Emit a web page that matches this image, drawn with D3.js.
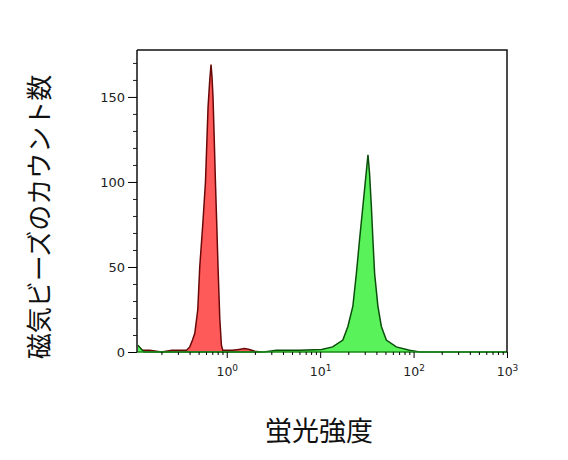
<!DOCTYPE html>
<html>
<head>
<meta charset="utf-8">
<script src="https://cdn.jsdelivr.net/npm/d3@7"></script>
<style>
  body { margin: 0; background: #fff; }
  svg text { font-family: "DejaVu Sans", Verdana, sans-serif; }
</style>
</head>
<body>
<div id="chart"></div>
<script>
// fluorescence intensity (log axis) and bead counts
const redIntensity = [0.115, 0.15, 0.2, 0.26, 0.33, 0.371, 0.402, 0.43, 0.455, 0.49, 0.514, 0.554, 0.592, 0.631, 0.658, 0.679, 0.695, 0.713, 0.735, 0.757, 0.782, 0.807, 0.842, 0.877, 0.906, 1.0, 1.15, 1.35, 1.55, 1.75, 2.0, 2.3];
const redCount     = [1, 1, 0, 1, 1, 1, 3, 7, 11, 25, 50, 75, 100, 144, 160, 169, 162, 150, 125, 100, 75, 50, 20, 4, 1, 1, 1, 1.5, 2, 1.5, 0.5, 0];

const greenIntensity = [0.112, 0.13, 0.3, 1.0, 2.5, 3.4, 6.0, 10.4, 13.6, 17.5, 19.8, 22.4, 24.4, 26.4, 28.7, 32.5, 33.8, 35.3, 36.7, 38.3, 41.5, 45.2, 51.1, 65.3, 90.6, 116, 200, 1000];
const greenCount     = [4, 0, 0, 0, 0, 1, 1, 1.5, 3, 7, 15, 27, 46, 66, 86, 116, 105, 86, 66, 46, 27, 15, 7, 3, 1, 0, 0, 0];

const yTicks = [0, 50, 100, 150];
const xTicks = [1, 10, 100, 1000];
const xTickExp = ["0", "1", "2", "3"];

const yTitle = "磁気ビーズのカウント数";
const xTitle = "蛍光強度";

// layout
const W = 568, H = 460;
const margin = { top: 50, right: 61, bottom: 108, left: 137 };
const width = W - margin.left - margin.right,
      height = H - margin.top - margin.bottom;

const x = d3.scaleLog().domain([0.1095, 1000]).range([0, width]);
const y = d3.scaleLinear().domain([0, 177.6]).range([height, 0]);

const svg = d3.select("#chart").append("svg")
    .attr("width", W)
    .attr("height", H);

const g = svg.append("g")
    .attr("transform", "translate(" + margin.left + "," + margin.top + ")");

// histograms
function drawHist(xs, ys, fill, stroke) {
  const pts = xs.map((d, i) => [d, ys[i]]);
  const area = d3.area()
      .x(d => x(d[0]))
      .y0(y(0))
      .y1(d => y(d[1]));
  const line = d3.line()
      .x(d => x(d[0]))
      .y(d => y(d[1]));
  g.append("path").datum(pts)
      .attr("d", area)
      .attr("fill", fill);
  g.append("path").datum(pts)
      .attr("d", line)
      .attr("fill", "none")
      .attr("stroke", stroke)
      .attr("stroke-width", 1.5);
}
drawHist(redIntensity, redCount, "#ff5a5a", "#6a0808");
drawHist(greenIntensity, greenCount, "#5af25a", "#0a4f0a");

// green baseline along the bottom
g.append("line")
    .attr("x1", 0).attr("x2", width)
    .attr("y1", height).attr("y2", height)
    .attr("stroke", "#1a8a1a")
    .attr("stroke-width", 1.5);

// frame top + right
g.append("path")
    .attr("d", "M0,0H" + width + "V" + height)
    .attr("fill", "none")
    .attr("stroke", "#111")
    .attr("stroke-width", 1.5);

// y axis
const yMinor = d3.range(0, 171, 10).filter(v => v % 50 !== 0);
g.append("g")
    .call(d3.axisLeft(y).tickValues(yMinor).tickSize(4).tickFormat(""))
    .call(a => a.select(".domain").remove())
    .selectAll("line").attr("stroke", "#222");
const yAx = g.append("g")
    .call(d3.axisLeft(y).tickValues(yTicks).tickSize(9).tickPadding(3));
yAx.select(".domain")
    .attr("d", "M0,0V" + height)
    .attr("stroke", "#111")
    .attr("stroke-width", 1.5);
yAx.selectAll("text").attr("font-size", 13).attr("fill", "#222")
    .attr("font-family", "DejaVu Sans");

// x axis
const xMinor = [];
[0.1, 1, 10, 100].forEach(b => {
  for (let k = 2; k <= 9; k++) xMinor.push(b * k);
});
const xMin = g.append("g")
    .attr("transform", "translate(0," + height + ")")
    .call(d3.axisBottom(x).tickValues(xMinor.filter(v => v > 0.11)).tickSize(3).tickFormat(""));
xMin.select(".domain").remove();
const xAx = g.append("g")
    .attr("transform", "translate(0," + height + ")")
    .call(d3.axisBottom(x).tickValues(xTicks).tickSize(6).tickFormat(""));
xAx.select(".domain").remove();
xAx.selectAll(".tick").each(function(d, i) {
  const t = d3.select(this).append("text")
      .attr("y", 24)
      .attr("fill", "#222")
      .attr("font-size", 12.5)
      .attr("text-anchor", "middle");
  t.append("tspan").text("10");
  t.append("tspan").attr("dy", -5).attr("font-size", 9).text(xTickExp[i]);
});

// titles
svg.append("text")
    .attr("transform", "translate(" + 49 + "," + 217 + ") rotate(-90)")
    .attr("text-anchor", "middle")
    .style("font-family", "'Noto Sans CJK JP', sans-serif")
    .style("font-size", "26px")
    .attr("fill", "#111")
    .text(yTitle);

svg.append("text")
    .attr("x", 319)
    .attr("y", 441)
    .attr("text-anchor", "middle")
    .style("font-family", "'Noto Sans CJK JP', sans-serif")
    .style("font-size", "27px")
    .attr("fill", "#111")
    .text(xTitle);
</script>
</body>
</html>
